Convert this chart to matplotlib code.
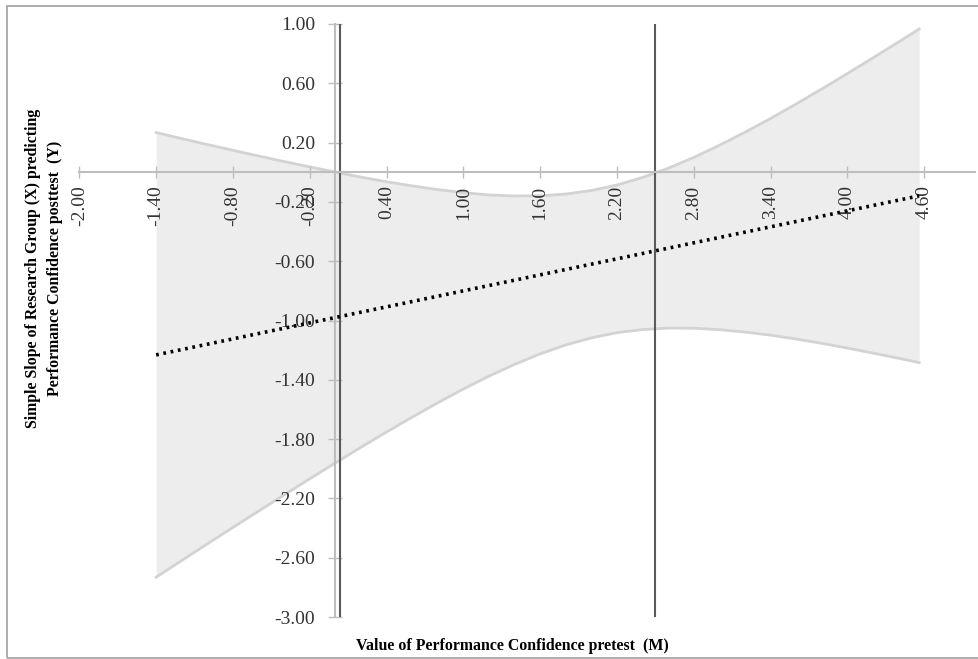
import matplotlib
matplotlib.use("Agg")
import matplotlib.pyplot as plt
from matplotlib.patches import Rectangle

# ---- data ----
moderator = [-1.40, -1.20, -1.00, -0.80, -0.60, -0.40, -0.20, 0.00, 0.20, 0.40,
             0.60, 0.80, 1.00, 1.20, 1.40, 1.60, 1.80, 2.00, 2.20, 2.40,
             2.60, 2.80, 3.00, 3.20, 3.40, 3.60, 3.80, 4.00, 4.20, 4.40, 4.56]
ci_upper = [0.268, 0.227, 0.187, 0.148, 0.110, 0.072, 0.036, 0.001, -0.033, -0.064,
            -0.092, -0.117, -0.138, -0.153, -0.160, -0.159, -0.147, -0.123, -0.086, -0.035,
            0.027, 0.100, 0.182, 0.270, 0.363, 0.461, 0.562, 0.666, 0.772, 0.879, 0.966]
ci_lower = [-2.732, -2.619, -2.507, -2.396, -2.286, -2.176, -2.068, -1.961, -1.855, -1.752,
            -1.652, -1.555, -1.462, -1.375, -1.296, -1.225, -1.165, -1.117, -1.082, -1.061,
            -1.051, -1.052, -1.062, -1.078, -1.099, -1.125, -1.154, -1.186, -1.220, -1.255, -1.284]
slope = [-1.232, -1.196, -1.160, -1.124, -1.088, -1.052, -1.016, -0.980, -0.944, -0.908,
         -0.872, -0.836, -0.800, -0.764, -0.728, -0.692, -0.656, -0.620, -0.584, -0.548,
         -0.512, -0.476, -0.440, -0.404, -0.368, -0.332, -0.296, -0.260, -0.224, -0.188, -0.159]
jn_points = [0.04, 2.50]
x_ticks = [-2.00, -1.40, -0.80, -0.20, 0.40, 1.00, 1.60, 2.20, 2.80, 3.40, 4.00, 4.60]
y_ticks = [-3.00, -2.60, -2.20, -1.80, -1.40, -1.00, -0.60, -0.20, 0.20, 0.60, 1.00]
x_label = "Value of Performance Confidence pretest  (M)"
y_label = "Simple Slope of Research Group (X) predicting\nPerformance Confidence posttest  (Y)"

W, H = 979, 659
fig = plt.figure(figsize=(W / 100, H / 100), dpi=100)
plt.rcParams['font.family'] = ['Liberation Serif', 'DejaVu Serif']

# outer border
fig.patches.append(Rectangle((7 / W, 1 - 658 / H), 1.2, (658 - 6) / H,
                             transform=fig.transFigure, fill=False,
                             edgecolor='#A0A0A0', lw=1.2))

ax = fig.add_axes([79.3 / W, (H - 617) / H, 896.2 / W, 593 / H])
ax.set_xlim(-2.0, 5.0)
ax.set_ylim(-3.0, 1.0)
ax.patch.set_alpha(0)

ax.fill_between(moderator, ci_lower, ci_upper, color='#EDEDED', lw=0, zorder=1)
ax.plot(moderator, ci_upper, color='#D3D3D3', lw=2, zorder=1.5)
ax.plot(moderator, ci_lower, color='#D3D3D3', lw=2, zorder=1.5)

for xv in jn_points:
    ax.axvline(xv, color='#5A5A5A', lw=1.5, zorder=2)

ax.plot(moderator, slope, color='black', lw=2.6,
        linestyle=(0, (0.75, 1.3)), zorder=3)

for s in ['top', 'right']:
    ax.spines[s].set_visible(False)
ax.spines['left'].set_position(('data', 0))
ax.spines['bottom'].set_position(('data', 0))
for s in ['left', 'bottom']:
    ax.spines[s].set_color('#BEBEBE')
    ax.spines[s].set_linewidth(1.5)
    ax.spines[s].set_zorder(2.5)

ax.set_xticks(x_ticks)
ax.set_xticklabels([f"{v:.2f}" for v in x_ticks], rotation=90)
ax.set_yticks(y_ticks)
ax.set_yticklabels([f"{v:.2f}" for v in y_ticks])
ax.tick_params(axis='x', direction='inout', length=9, width=1, color='#BEBEBE',
               pad=5, labelsize=14, labelcolor='#333333')
ax.tick_params(axis='y', direction='inout', length=10, width=1, color='#BEBEBE',
               pad=9.5, labelsize=14, labelcolor='#333333')
for lab in ax.get_xticklabels():
    lab.set_verticalalignment('top')

fig.text(512 / W, 1 - 646 / H, x_label, ha='center', va='center',
         fontsize=11.4, fontweight='bold', color='black')
fig.text(44 / W, 1 - 268 / H, y_label, ha='center', va='center', rotation=90,
         fontsize=11.4, fontweight='bold', color='black', linespacing=1.5,
         multialignment='center')

fig.savefig("out.png", dpi=100)
